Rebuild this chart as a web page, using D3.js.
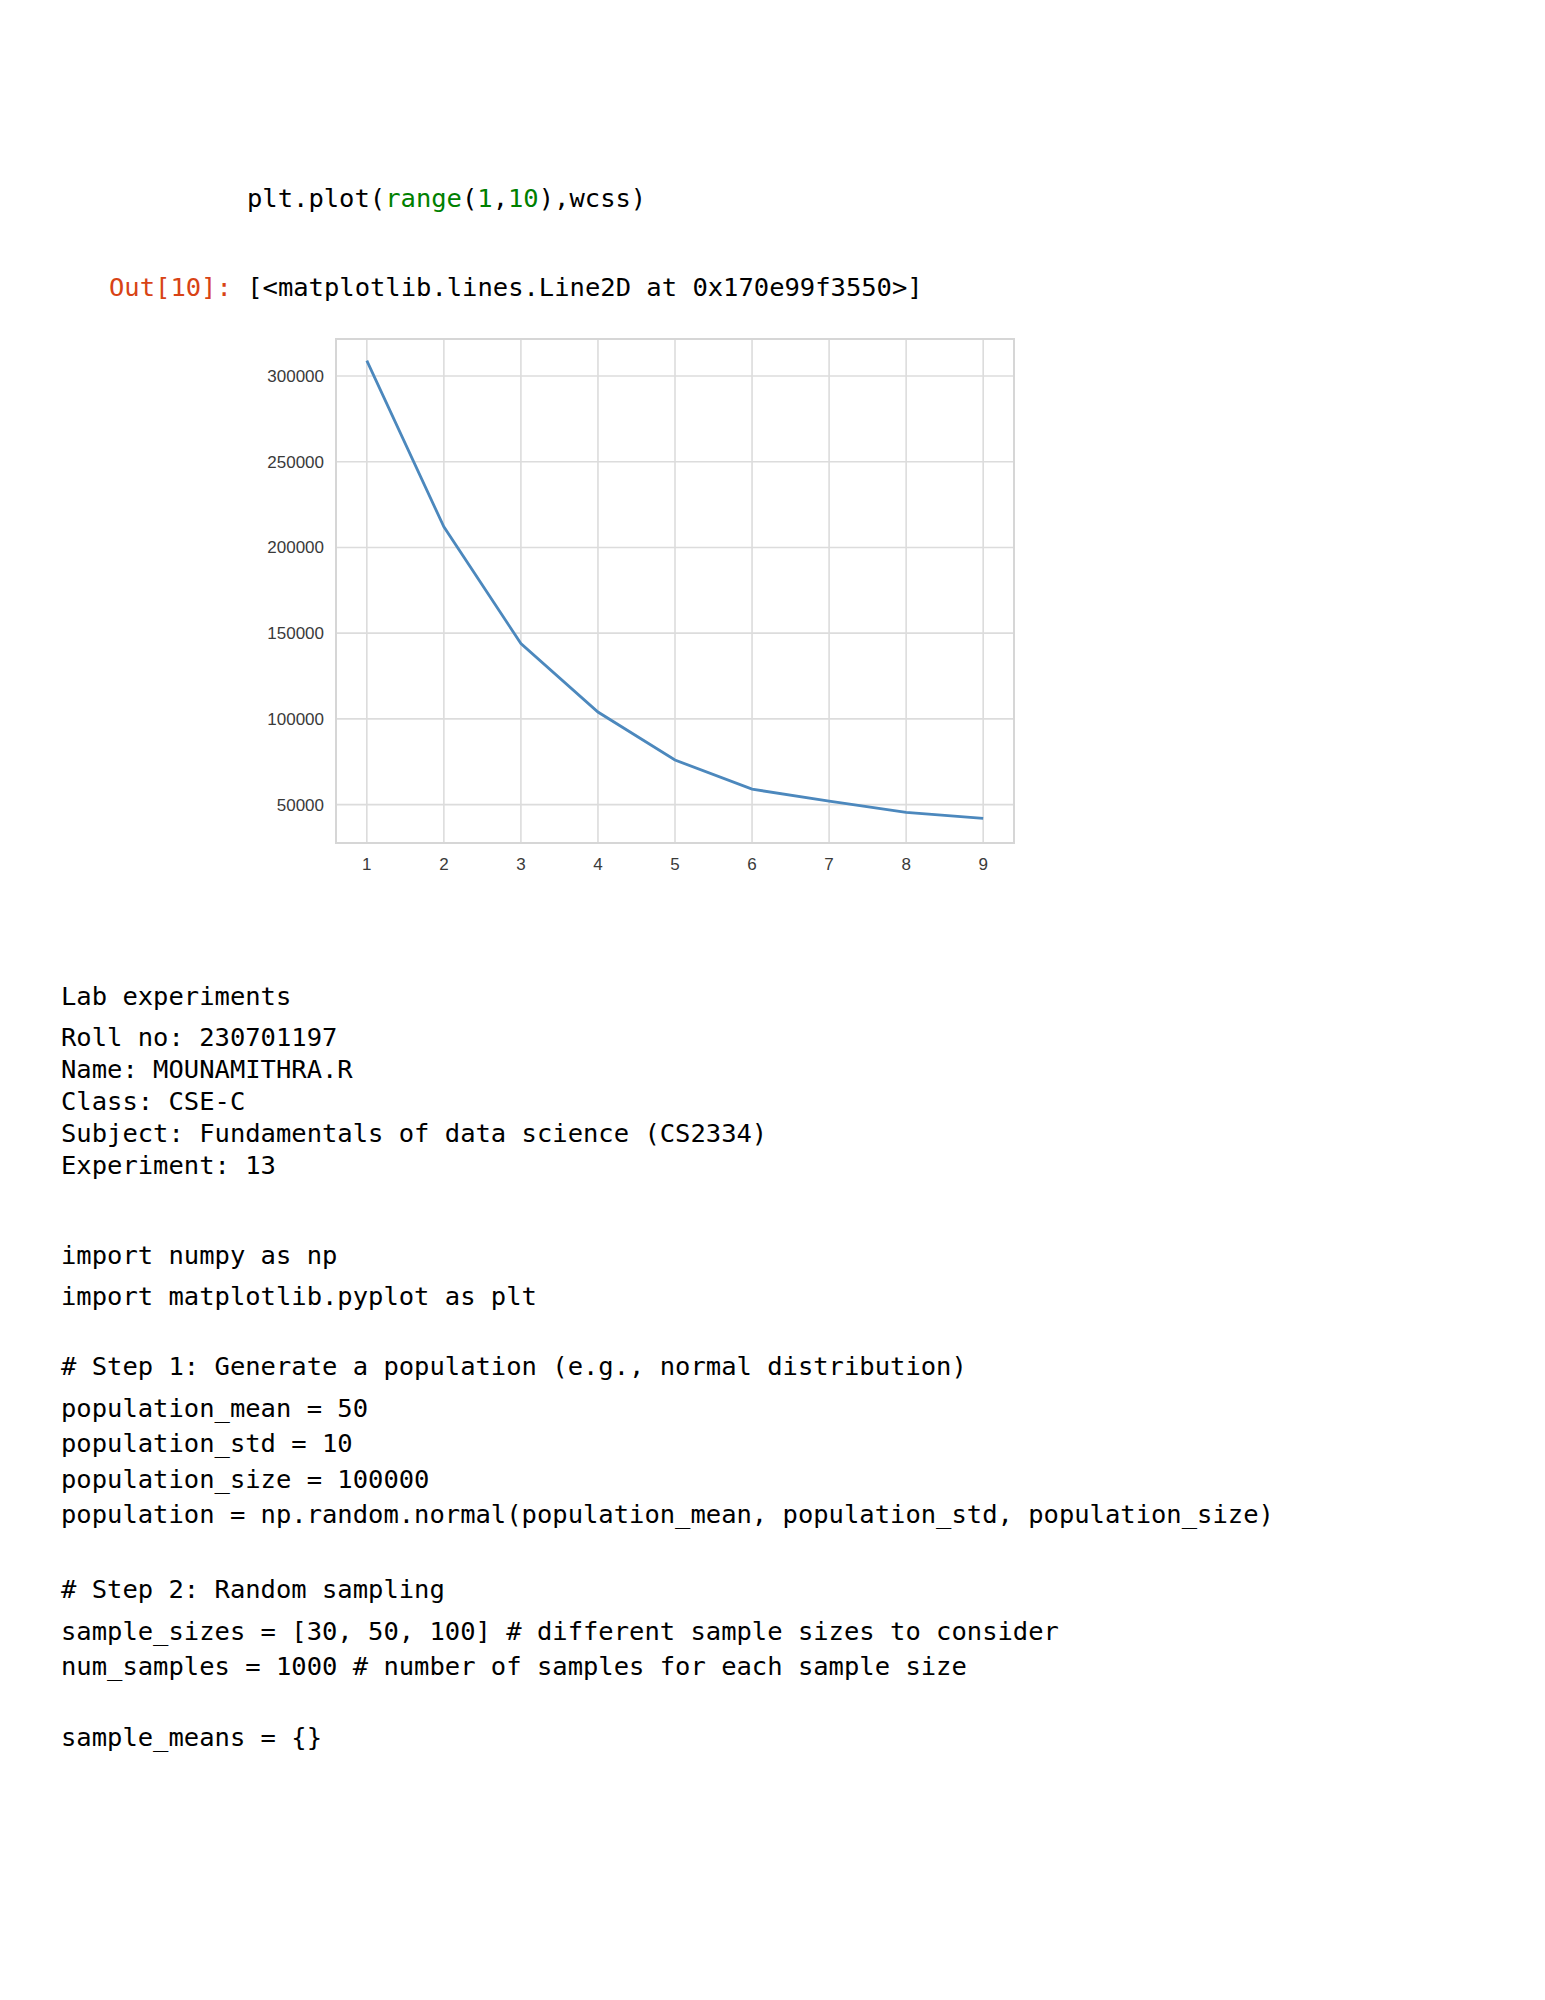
<!DOCTYPE html>
<html><head><meta charset="utf-8">
<script src="https://cdn.jsdelivr.net/npm/d3@7"></script>
<style>
body{margin:0;background:#fff;}
.code{font-family:"DejaVu Sans Mono",monospace;font-size:25.5px;fill:#000;}
</style></head>
<body><svg id="c" width="1545" height="2000"></svg>
<script>
const kValues = [1, 2, 3, 4, 5, 6, 7, 8, 9];
const wcss = [309000, 212000, 144000, 104000, 76000, 59000, 52000, 45500, 42000];
const yTicks = [50000, 100000, 150000, 200000, 250000, 300000];

// text lines: [x, baseline y, segments]
const lines = [
  [247, 207, [["plt.plot(", "#000"], ["range", "#008000"], ["(", "#000"], ["1", "#008000"], [",", "#000"], ["10", "#008000"], ["),wcss)", "#000"]]],
  [109, 296, [["Out[10]: ", "#d84315"], ["[<matplotlib.lines.Line2D at 0x170e99f3550>]", "#000"]]],
  [61, 1005, [["Lab experiments", "#000"]]],
  [61, 1046, [["Roll no: 230701197", "#000"]]],
  [61, 1078, [["Name: MOUNAMITHRA.R", "#000"]]],
  [61, 1110, [["Class: CSE-C", "#000"]]],
  [61, 1142, [["Subject: Fundamentals of data science (CS2334)", "#000"]]],
  [61, 1174, [["Experiment: 13", "#000"]]],
  [61, 1264, [["import numpy as np", "#000"]]],
  [61, 1305, [["import matplotlib.pyplot as plt", "#000"]]],
  [61, 1375, [["# Step 1: Generate a population (e.g., normal distribution)", "#000"]]],
  [61, 1417, [["population_mean = 50", "#000"]]],
  [61, 1452, [["population_std = 10", "#000"]]],
  [61, 1488, [["population_size = 100000", "#000"]]],
  [61, 1523, [["population = np.random.normal(population_mean, population_std, population_size)", "#000"]]],
  [61, 1598, [["# Step 2: Random sampling", "#000"]]],
  [61, 1640, [["sample_sizes = [30, 50, 100] # different sample sizes to consider", "#000"]]],
  [61, 1675, [["num_samples = 1000 # number of samples for each sample size", "#000"]]],
  [61, 1746, [["sample_means = {}", "#000"]]]
];

const svg = d3.select('#c');
lines.forEach(([x, y, segs]) => {
  const t = svg.append('text').attr('class', 'code').attr('x', x).attr('y', y).attr('xml:space', 'preserve');
  segs.forEach(([s, c]) => t.append('tspan').attr('fill', c).text(s));
});

// chart frame
const L = 336, R = 1014, T = 339, B = 843;
const x = d3.scaleLinear().domain([0.6, 9.4]).range([L, R]);
const y = d3.scaleLinear().domain([27600, 321600]).range([B, T]);
const g = svg.append('g');

g.selectAll('line.vx').data(kValues).enter().append('line')
  .attr('x1', d => x(d)).attr('x2', d => x(d)).attr('y1', T).attr('y2', B)
  .attr('stroke', '#dcdcdc').attr('stroke-width', 1.6);
g.selectAll('line.hy').data(yTicks).enter().append('line')
  .attr('x1', L).attr('x2', R).attr('y1', d => y(d)).attr('y2', d => y(d))
  .attr('stroke', '#dcdcdc').attr('stroke-width', 1.6);
g.append('rect').attr('x', L).attr('y', T).attr('width', R - L).attr('height', B - T)
  .attr('fill', 'none').attr('stroke', '#d6d6d6').attr('stroke-width', 2);

g.selectAll('text.yt').data(yTicks).enter().append('text')
  .attr('x', L - 12).attr('y', d => y(d) + 6).attr('text-anchor', 'end')
  .style('font-family', 'Liberation Sans, Arial, sans-serif').style('font-size', '17px').attr('fill', '#3a3a3a')
  .text(d => d);
g.selectAll('text.xt').data(kValues).enter().append('text')
  .attr('x', d => x(d)).attr('y', B + 27).attr('text-anchor', 'middle')
  .style('font-family', 'Liberation Sans, Arial, sans-serif').style('font-size', '17px').attr('fill', '#3a3a3a')
  .text(d => d);

const line = d3.line().x((d, i) => x(kValues[i])).y(d => y(d));
g.append('path').datum(wcss).attr('d', line)
  .attr('fill', 'none').attr('stroke', '#4c88bd').attr('stroke-width', 2.8);
</script></body></html>
